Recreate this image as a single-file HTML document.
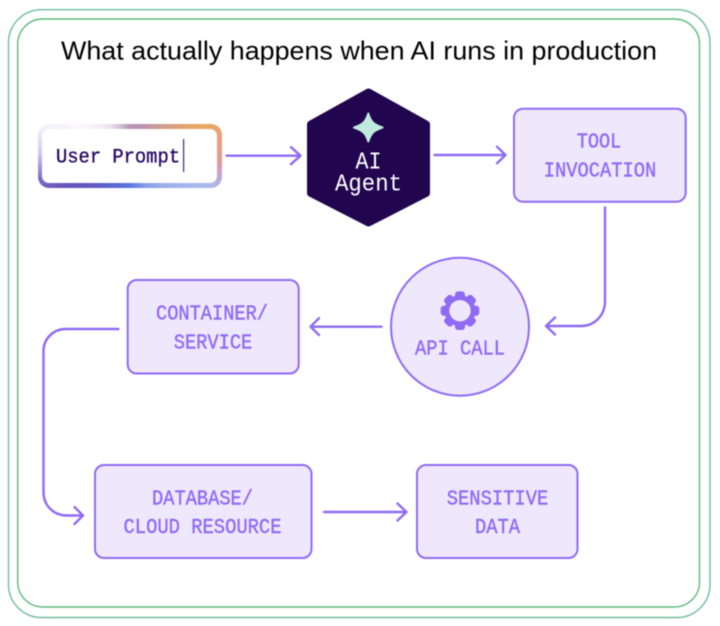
<!DOCTYPE html>
<html>
<head>
<meta charset="utf-8">
<style>
html,body{margin:0;padding:0;background:#fff;width:720px;height:626px;overflow:hidden}
#wrap{position:relative;width:720px;height:626px;filter:blur(.4px)}
svg{position:absolute;left:0;top:0}
#grad{position:absolute;left:37.5px;top:123.5px;width:184px;height:64px;border-radius:11px;
background:conic-gradient(from 0deg at 50% 50%,#b795b8 0deg,#bd93ae 25deg,#d8a080 55deg,#eaa862 68deg,#e8a080 80deg,#e39a90 92deg,#c0a8d0 102deg,#a8bcee 112deg,#8ba0e8 150deg,#5878e2 180deg,#5a66d0 215deg,#6652bc 245deg,#7c6cc8 256deg,#cfcaf0 272deg,#f0eefa 287deg,#fbf8fc 300deg,#eee4f0 325deg,#b795b8 360deg)}
#gradin{position:absolute;left:42px;top:128.5px;width:175px;height:54px;border-radius:7px;background:#fff}
text{font-family:"Liberation Mono",monospace}
.l{fill:#8f6af5;font-size:21px;stroke:#8f6af5;stroke-width:.4px}
</style>
</head>
<body>
<div id="wrap">
<div id="grad"></div>
<div id="gradin"></div>
<svg width="720" height="626" viewBox="0 0 720 626" xmlns="http://www.w3.org/2000/svg">
<rect x="8.5" y="9.7" width="701.5" height="607.8" rx="33" fill="none" stroke="#6fbc9c" stroke-width="1.4"/>
<rect x="17.7" y="19" width="681.8" height="588" rx="25" fill="none" stroke="#5fba7f" stroke-width="1.4"/>
<text x="61" y="59.5" textLength="596" lengthAdjust="spacingAndGlyphs" style="font-family:'Liberation Sans',sans-serif;font-size:26px;fill:#000">What actually happens when AI runs in production</text>

<text x="56" y="162.5" textLength="124" lengthAdjust="spacingAndGlyphs" style="font-size:20.5px;fill:#26085f;stroke:#26085f;stroke-width:.35px">User Prompt</text>
<rect x="183" y="139" width="1.2" height="33" fill="#3a2a78"/>

<polygon points="368.5,92.5 426,124.5 426,193 368.5,222.5 311,193 311,124.5" fill="#22054f" stroke="#22054f" stroke-width="8" stroke-linejoin="round"/>
<path d="M368.3 113.5 C371 122.5 374 124.5 382.5 127.5 C374 130.5 371 132.5 368.3 141.5 C365.5 132.5 362.5 130.5 354 127.5 C362.5 124.5 365.5 122.5 368.3 113.5Z" fill="#bfeade" stroke="#bfeade" stroke-width="2" stroke-linejoin="round"/>
<text x="368.5" y="168.5" text-anchor="middle" textLength="26" lengthAdjust="spacingAndGlyphs" style="font-size:24px;fill:#fff">AI</text>
<text x="368.5" y="190.5" text-anchor="middle" textLength="67" lengthAdjust="spacingAndGlyphs" style="font-size:24px;fill:#fff">Agent</text>

<g fill="#efe8fd" stroke="#8f6af5" stroke-width="2">
<rect x="514" y="108.7" width="171.7" height="93" rx="9"/>
<rect x="127.7" y="280" width="171" height="93.5" rx="9"/>
<rect x="95" y="465" width="216.5" height="93" rx="9"/>
<rect x="417" y="465" width="160.5" height="93" rx="9"/>
<circle cx="460" cy="326.7" r="69"/>
</g>

<g fill="#8f6af5">
<g transform="translate(460 310.7)">
<rect x="-5" y="-19.3" width="10" height="10" rx="3"/>
<rect x="-5" y="-19.3" width="10" height="10" rx="3" transform="rotate(45)"/>
<rect x="-5" y="-19.3" width="10" height="10" rx="3" transform="rotate(90)"/>
<rect x="-5" y="-19.3" width="10" height="10" rx="3" transform="rotate(135)"/>
<rect x="-5" y="-19.3" width="10" height="10" rx="3" transform="rotate(180)"/>
<rect x="-5" y="-19.3" width="10" height="10" rx="3" transform="rotate(225)"/>
<rect x="-5" y="-19.3" width="10" height="10" rx="3" transform="rotate(270)"/>
<rect x="-5" y="-19.3" width="10" height="10" rx="3" transform="rotate(315)"/>
<circle r="13" fill="none" stroke="#8f6af5" stroke-width="5"/>
</g>
</g>
<circle cx="460" cy="310.7" r="10.7" fill="#efe8fd"/>

<g lengthAdjust="spacingAndGlyphs">
<text class="l" x="599" y="147.7" text-anchor="middle" textLength="44.5" lengthAdjust="spacingAndGlyphs">TOOL</text>
<text class="l" x="600" y="176.7" text-anchor="middle" textLength="112.5" lengthAdjust="spacingAndGlyphs">INVOCATION</text>
<text class="l" x="460" y="354.7" text-anchor="middle" textLength="90" lengthAdjust="spacingAndGlyphs">API CALL</text>
<text class="l" x="212" y="319.7" text-anchor="middle" textLength="112" lengthAdjust="spacingAndGlyphs">CONTAINER/</text>
<text class="l" x="213" y="348.3" text-anchor="middle" textLength="78.5" lengthAdjust="spacingAndGlyphs">SERVICE</text>
<text class="l" x="202.5" y="504.7" text-anchor="middle" textLength="101" lengthAdjust="spacingAndGlyphs">DATABASE/</text>
<text class="l" x="202.5" y="533" text-anchor="middle" textLength="158" lengthAdjust="spacingAndGlyphs">CLOUD RESOURCE</text>
<text class="l" x="497.5" y="504.7" text-anchor="middle" textLength="101.5" lengthAdjust="spacingAndGlyphs">SENSITIVE</text>
<text class="l" x="497.5" y="533" text-anchor="middle" textLength="45" lengthAdjust="spacingAndGlyphs">DATA</text>
</g>

<g fill="none" stroke="#8f6af5" stroke-width="2.4" stroke-linecap="round" stroke-linejoin="round">
<path d="M226.5 155.7H300M291 147.2L300.5 155.7L291 164.2"/>
<path d="M434.5 155H505.5M497 146.7L505.5 155L497 163.3"/>
<path d="M605 207.5V301C605 316 594 326 581 326H546M555 317.5L546 326L555 334.5"/>
<path d="M381.5 326.7H310.5M319 318.2L310.5 326.7L319 335"/>
<path d="M118.5 329H66C53 329 43.5 339 43.5 351V492C43.5 506 54 515.5 67 515.5H83M74.5 507L83 515.5L74.5 524"/>
<path d="M324 512H406.5M397.5 503.5L406.5 512L397.5 520.5"/>
</g>
</svg>
</div>
</body>
</html>
